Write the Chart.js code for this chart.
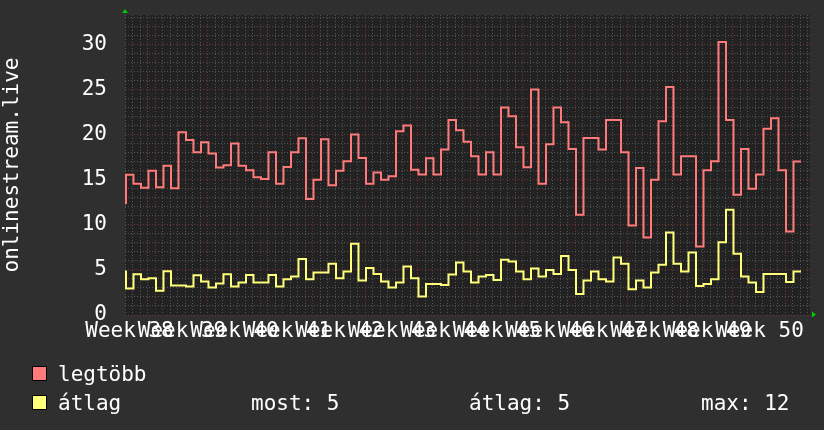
<!DOCTYPE html>
<html>
<head>
<meta charset="utf-8">
<title>onlinestream.live</title>
<script src="https://cdn.jsdelivr.net/npm/chart.js@4.4.1/dist/chart.umd.min.js"></script>
<style>
    html, body { margin: 0; padding: 0; background: #2f2f2f; }
    #chart { display: block; }
</style>
</head>
<body>
<canvas id="chart" width="824" height="430"></canvas>
<script>
// ================================
// Data (one value per day, first entry is the value just before the window)
// ================================
const weekNumbers = [38, 39, 40, 41, 42, 43, 44, 45, 46, 47, 48, 49, 50];
const weekLabels = weekNumbers.map(n => "Week " + n);
const yTickLabels = [0, 5, 10, 15, 20, 25, 30];

const maxValues = [
    12.3, 15.55, 14.55, 14.1, 16.0, 14.15, 16.55, 14.05, 20.25, 19.4,
    18.05, 19.15, 17.9, 16.35, 16.6, 19.0, 16.55, 16.04, 15.26, 15.07,
    18.04, 14.56, 16.4, 18.04, 19.6, 12.85, 15.0, 19.48, 14.37, 16.0,
    17.04, 20.0, 17.4, 14.56, 15.8, 15.0, 15.37, 20.37, 21.0, 16.1,
    15.56, 17.37, 15.56, 18.33, 21.6, 20.48, 19.2, 17.6, 15.56, 18.04,
    15.56, 23.0, 22.04, 18.6, 16.37, 25.0, 14.56, 18.93, 23.0, 21.37,
    18.4, 11.11, 19.63, 19.63, 18.33, 21.6, 21.6, 18.04, 9.93, 16.3,
    8.6, 15.0, 21.48, 25.26, 15.56, 17.6, 17.6, 7.6, 16.04, 17.04,
    30.26, 21.6, 13.33, 18.4, 14.0, 15.56, 20.63, 21.81, 16.04, 9.26, 17.0
];

const avgValues = [
    4.93, 2.93, 4.52, 3.96, 4.07, 2.7, 4.85, 3.26, 3.26, 3.15,
    4.4, 3.7, 3.04, 3.5, 4.52, 3.15, 3.6, 4.44, 3.6, 3.6,
    4.44, 3.15, 3.96, 4.26, 6.22, 3.96, 4.7, 4.7, 5.67, 4.07,
    4.81, 7.9, 3.81, 5.22, 4.55, 3.7, 3.04, 3.6, 5.37, 4.07,
    2.04, 3.44, 3.44, 3.33, 4.48, 5.81, 4.81, 3.6, 4.26, 4.44,
    3.89, 6.11, 5.93, 4.81, 3.96, 5.15, 4.26, 5.0, 4.55, 6.55,
    5.0, 2.33, 3.81, 4.81, 3.96, 3.7, 6.37, 5.67, 2.85, 3.81,
    3.04, 4.7, 5.56, 9.15, 5.67, 4.81, 6.93, 3.22, 3.44, 3.96,
    8.07, 11.67, 6.78, 4.26, 3.6, 2.56, 4.55, 4.55, 4.55, 3.67, 4.81
];

const seriesNames = ["legtöbb", "átlag"];
const legendStats = ["most: 5", "átlag: 5", "max: 12"];

// time axis, in days from the left edge of the graph (midnight)
const plotDays = 91.33;
const firstSample = 0.13;
const firstWeekLine = 4;      // monday 00:00 of week 39
const firstLabelDay = 0.6;    // label centre of "Week 38"
const yMax = 33.25;

const sampleDays = maxValues.map((v, i) => firstSample + i);

// ================================
// Styles
// ================================
const FONT = "'DejaVu Sans Mono'";
const TEXT = "#ffffff";
const MINOR_GRID = "#555555";
const MAJOR_GRID = "#743434";

const rrdDecor = {
    id: "rrdDecor",
    beforeDraw(chart) {
        const { ctx, chartArea: a } = chart;
        ctx.save();
        ctx.fillStyle = "#2f2f2f";
        ctx.fillRect(0, 0, chart.width, chart.height);
        ctx.fillStyle = "#222222";
        ctx.fillRect(a.left, a.top, a.right - a.left, a.bottom - a.top);
        ctx.restore();
    },
    afterDraw(chart) {
        const { ctx, chartArea: a } = chart;
        ctx.save();

        // green axis arrows
        ctx.fillStyle = "#00cc00";
        ctx.beginPath();
        ctx.moveTo(a.left, a.top - 6);
        ctx.lineTo(a.left - 3, a.top - 2);
        ctx.lineTo(a.left + 3, a.top - 2);
        ctx.closePath();
        ctx.fill();
        ctx.beginPath();
        ctx.moveTo(a.right + 6, a.bottom - 0.5);
        ctx.lineTo(a.right + 2, a.bottom - 3.5);
        ctx.lineTo(a.right + 2, a.bottom + 2.5);
        ctx.closePath();
        ctx.fill();

        // legend
        const rows = [381, 410];
        ctx.font = "21px " + FONT;
        ctx.textBaseline = "alphabetic";
        chart.data.datasets.forEach((ds, i) => {
            const y = rows[i];
            ctx.fillStyle = ds.borderColor;
            ctx.fillRect(32, y - 15, 15, 15);
            ctx.strokeStyle = "#000000";
            ctx.lineWidth = 1;
            ctx.strokeRect(32.5, y - 14.5, 14, 14);
            ctx.fillStyle = TEXT;
            ctx.fillText(ds.label, 58, y);
        });
        const statX = [251, 469, 701];
        legendStats.forEach((s, i) => ctx.fillText(s, statX[i], rows[1]));
        ctx.restore();
    }
};

function gridColorX(c) {
    const v = c.tick ? c.tick.value : 0;
    if (!Number.isInteger(v)) return "rgba(0,0,0,0)";
    return (v - firstWeekLine) % 7 === 0 ? MAJOR_GRID : MINOR_GRID;
}

function gridColorY(c) {
    const v = c.tick ? c.tick.value : 0;
    return v % 5 === 0 ? MAJOR_GRID : MINOR_GRID;
}

new Chart(document.getElementById("chart"), {
    type: "line",
    data: {
        datasets: [
            {
                label: seriesNames[0],
                data: maxValues.map((v, i) => ({ x: sampleDays[i], y: v })),
                borderColor: "#ff7a7a",
                borderWidth: 2,
                stepped: "after",
                pointRadius: 0,
                fill: false
            },
            {
                label: seriesNames[1],
                data: avgValues.map((v, i) => ({ x: sampleDays[i], y: v })),
                borderColor: "#ffff7a",
                borderWidth: 2,
                stepped: "after",
                pointRadius: 0,
                fill: false
            }
        ]
    },
    options: {
        responsive: false,
        animation: false,
        devicePixelRatio: 1,
        layout: { padding: { top: 15, right: 14, left: 0, bottom: 0 } },
        plugins: {
            legend: { display: false },
            tooltip: { enabled: false }
        },
        scales: {
            x: {
                type: "linear",
                min: 0,
                max: plotDays,
                afterBuildTicks(scale) {
                    const ticks = [];
                    for (let d = 0; d <= plotDays; d++) ticks.push({ value: d });
                    weekLabels.forEach((w, i) => ticks.push({ value: firstLabelDay + 7 * i }));
                    ticks.sort((p, q) => p.value - q.value);
                    scale.ticks = ticks;
                },
                afterFit(scale) {
                    scale.height = 115;
                    scale.paddingLeft = 0;
                    scale.paddingRight = 0;
                },
                ticks: {
                    autoSkip: false,
                    maxRotation: 0,
                    padding: 4,
                    color: TEXT,
                    font: { family: FONT, size: 21 },
                    callback(value) {
                        const i = weekLabels.findIndex((w, k) => Math.abs(firstLabelDay + 7 * k - value) < 1e-6);
                        return i >= 0 ? weekLabels[i] : "";
                    }
                },
                grid: { color: gridColorX, lineWidth: 1, drawTicks: false },
                border: { display: false, dash: [1, 2] }
            },
            y: {
                min: 0,
                max: yMax,
                afterBuildTicks(scale) {
                    const ticks = [];
                    for (let v = 0; v <= Math.floor(yMax); v++) ticks.push({ value: v });
                    scale.ticks = ticks;
                },
                afterFit(scale) {
                    scale.width = 125;
                    scale.paddingTop = 0;
                    scale.paddingBottom = 0;
                },
                ticks: {
                    autoSkip: false,
                    padding: 18,
                    color: TEXT,
                    font: { family: FONT, size: 21 },
                    callback(value) {
                        return yTickLabels.includes(value) ? String(value) : "";
                    }
                },
                grid: { color: gridColorY, lineWidth: 1, drawTicks: false },
                border: { display: false, dash: [1, 2] },
                title: {
                    display: true,
                    text: "onlinestream.live",
                    color: TEXT,
                    font: { family: FONT, size: 21 },
                    padding: 0
                }
            }
        }
    },
    plugins: [rrdDecor]
});
</script>
</body>
</html>
